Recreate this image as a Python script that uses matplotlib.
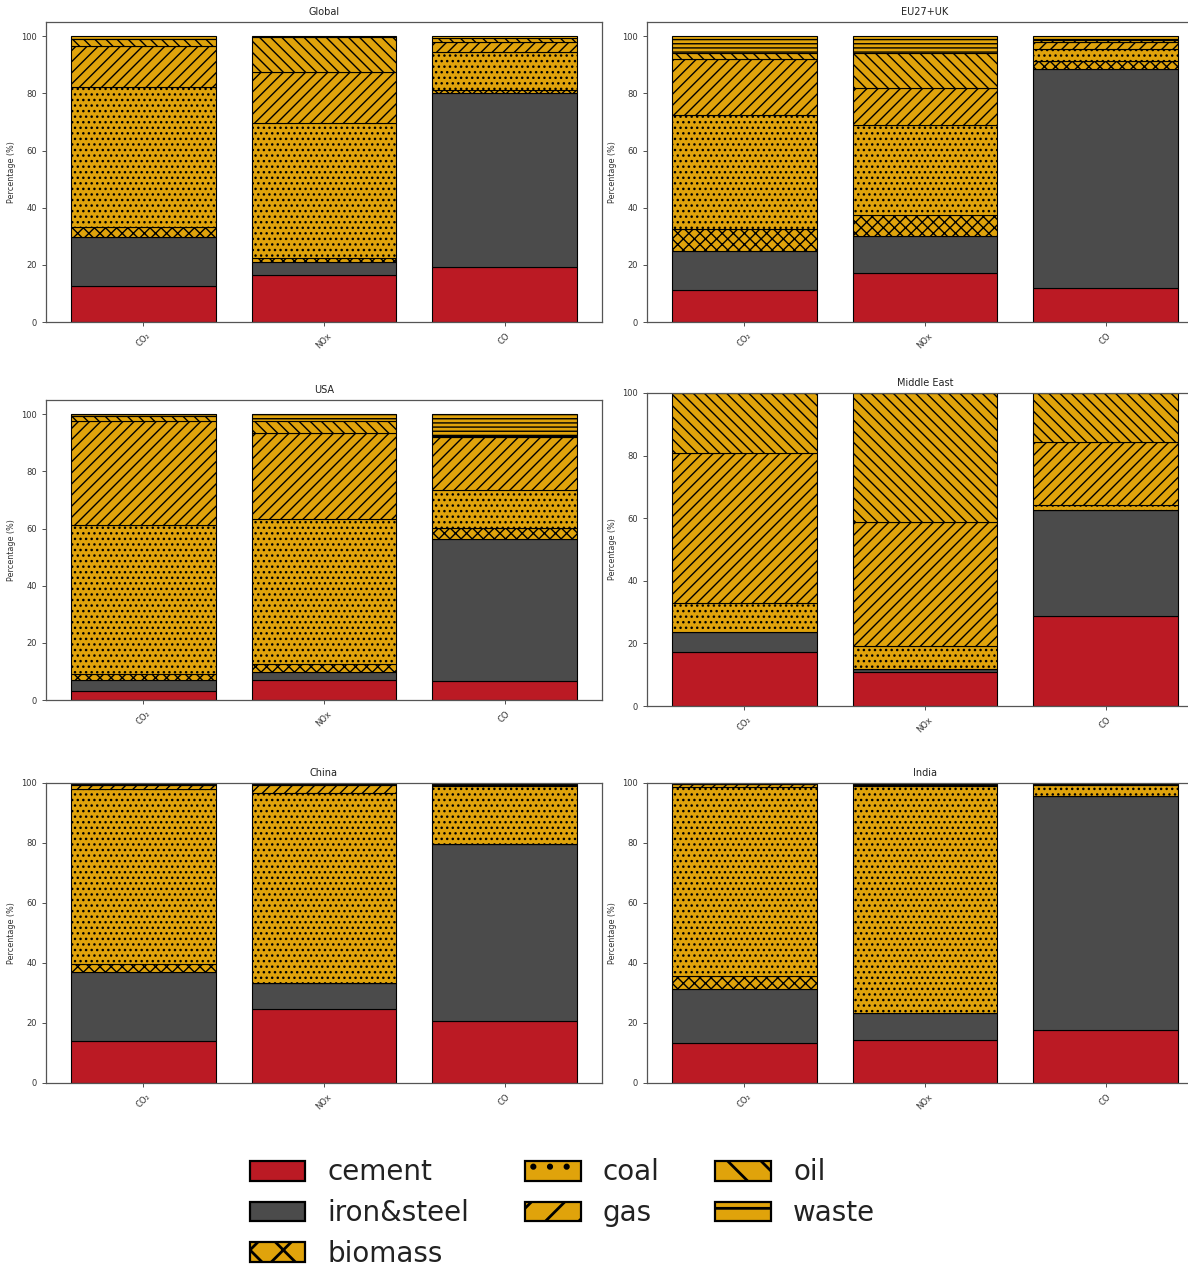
import matplotlib
matplotlib.use("Agg")
import matplotlib.pyplot as plt
from matplotlib.patches import Patch
import numpy as np

# Sectors (stacking order, bottom to top) and pollutants
sectors = ["cement", "iron&steel", "biomass", "coal", "gas", "oil", "waste"]
pollutants = ["CO₂", "NOx", "CO"]

# Share of each sector (%) for CO2, NOx, CO in each region
global_shares = [
    [12.5, 16.3, 19.1],
    [17.4, 4.8, 61.1],
    [3.3, 1.3, 1.0],
    [49.1, 47.1, 13.4],
    [14.4, 17.9, 3.4],
    [2.2, 12.3, 1.3],
    [1.1, 0.3, 0.7],
]
eu_uk_shares = [
    [11.2, 17.3, 12.0],
    [13.7, 12.9, 76.7],
    [7.7, 7.1, 2.6],
    [40.0, 31.8, 4.1],
    [19.6, 12.9, 2.6],
    [2.1, 12.3, 0.8],
    [5.7, 5.7, 1.2],
]
usa_shares = [
    [3.0, 6.9, 6.8],
    [3.9, 3.0, 49.6],
    [2.1, 2.6, 3.7],
    [52.3, 50.8, 13.3],
    [36.5, 30.3, 18.7],
    [1.6, 3.9, 0.4],
    [0.6, 2.5, 7.5],
]
middle_east_shares = [
    [17.2, 10.9, 28.6],
    [6.4, 0.8, 34.0],
    [0.0, 0.0, 0.0],
    [9.2, 7.4, 1.5],
    [48.1, 39.7, 20.2],
    [19.1, 41.2, 15.7],
    [0.0, 0.0, 0.0],
]
china_shares = [
    [14.1, 24.6, 20.7],
    [23.0, 8.7, 58.9],
    [2.7, 0.0, 0.0],
    [58.3, 63.5, 19.3],
    [1.2, 2.5, 0.5],
    [0.4, 0.5, 0.4],
    [0.3, 0.2, 0.2],
]
india_shares = [
    [13.3, 14.4, 17.8],
    [18.1, 8.9, 78.0],
    [4.4, 0.0, 0.0],
    [62.9, 75.6, 3.4],
    [0.9, 0.3, 0.2],
    [0.2, 0.6, 0.4],
    [0.2, 0.2, 0.2],
]

RED = "#bb1a24"
GREY = "#4b4b4b"
GOLD = "#e0a30b"
colors = [RED, GREY, GOLD, GOLD, GOLD, GOLD, GOLD]
bar_hatches = [None, None, "xxx", "...", "///", "\\\\\\", "----"]
legend_hatches = [None, None, "x", ".", "/", "\\", "-"]

W, H = 1188, 1271
fig = plt.figure(figsize=(W / 100, H / 100), dpi=100)


def add_panel(box):
    left, top, right, bottom = box
    return fig.add_axes([left / W, 1 - bottom / H, (right - left) / W, (bottom - top) / H])


panels = [
    ("Global", global_shares, (46, 22, 602, 322), 105),
    ("EU27+UK", eu_uk_shares, (647, 22, 1203, 322), 105),
    ("USA", usa_shares, (46, 400, 602, 700), 105),
    ("Middle East", middle_east_shares, (647, 393, 1203, 706), 100),
    ("China", china_shares, (46, 783, 602, 1083), 100),
    ("India", india_shares, (647, 783, 1203, 1083), 100),
]

x = np.arange(len(pollutants))
for title, shares, box, ytop in panels:
    ax = add_panel(box)
    bottom = np.zeros(len(pollutants))
    for i, name in enumerate(sectors):
        vals = np.array(shares[i], dtype=float)
        ax.bar(x, vals, 0.8, bottom=bottom, color=colors[i],
               edgecolor="black", linewidth=0.8, hatch=bar_hatches[i])
        bottom += vals
    ax.set_ylim(0, ytop)
    ax.set_xticks(x)
    ax.set_xticklabels(pollutants, rotation=45, fontsize=6)
    ax.set_yticks([0, 20, 40, 60, 80, 100])
    ax.tick_params(axis="y", labelsize=6, length=3, width=0.6, colors="#333333")
    ax.tick_params(axis="x", length=3, width=0.6, colors="#333333")
    ax.set_ylabel("Percentage (%)", fontsize=5.8, color="#333333")
    ax.set_title(title, fontsize=7, color="#222222", pad=5)
    for sp in ax.spines.values():
        sp.set_color("#555555")
        sp.set_linewidth(0.9)

# Legend with coarser, heavier hatches
with plt.rc_context({"hatch.linewidth": 2.0}):
    handles = []
    for i, name in enumerate(sectors):
        p = Patch(facecolor=colors[i], edgecolor="black", linewidth=1.6,
                  hatch=legend_hatches[i], label=name)
        handles.append(p)
    leg = fig.legend(handles=handles, loc="center", ncol=3, fontsize=20,
                     frameon=False, bbox_to_anchor=(562.5 / W, 1 - 1213 / H),
                     handletextpad=0.8, columnspacing=2.0, labelspacing=0.45)
    for t in leg.get_texts():
        t.set_color("#222222")

fig.savefig("out.png", dpi=100)
